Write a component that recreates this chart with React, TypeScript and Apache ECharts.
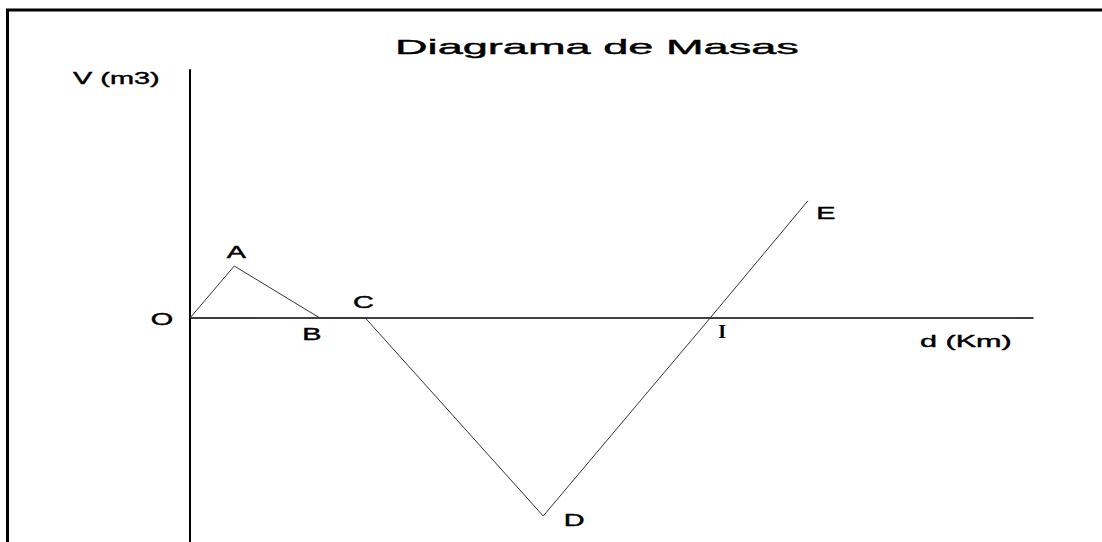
import React, { useEffect, useRef } from "react";
import * as echarts from "echarts";

const pointNames = ["O", "A", "B", "C", "D", "I", "E"];
const distances = [0, 5.25, 15.4, 20.8, 41.9, 61.7, 73.3];
const volumes = [0, 13, 0, 0, -49.5, 0, 29.3];
const titleText = "Diagrama de Masas";
const yAxisName = "V (m3)";
const xAxisName = "d (Km)";

// label offsets (px) relative to each vertex
const labelOffsets: Record<string, [number, number]> = {
  O: [-28, 2],
  A: [2, -13],
  B: [-8, 17],
  C: [-2, -15],
  D: [31, 5],
  I: [12, 13],
  E: [18, 13],
};

const SANS = "'Liberation Sans', Arial, sans-serif";

function stretchedText(text: string, x: number, y: number, fontSize: number, scaleX: number, align = "left", extra: any = {}) {
  return {
    type: "text",
    x,
    y,
    scaleX,
    silent: true,
    style: {
      text,
      x: 0,
      y: 0,
      fill: "#000",
      stroke: "#000",
      lineWidth: 0.4,
      fontSize,
      fontFamily: SANS,
      textAlign: align,
      align,
      textVerticalAlign: "middle",
      verticalAlign: "middle",
      ...extra,
    },
  };
}

export default function App() {
  const ref = useRef<HTMLDivElement>(null);
  useEffect(() => {
    if (!ref.current) return;
    const chart = echarts.init(ref.current, undefined, { renderer: "svg" });
    chart.setOption({
      animation: false,
      backgroundColor: "#fff",
      grid: { left: 190, top: 70, right: 69, bottom: 0 },
      xAxis: {
        type: "value",
        min: 0,
        max: 100,
        axisLine: { onZero: true, lineStyle: { color: "#000", width: 1.5 } },
        axisTick: { show: false },
        axisLabel: { show: false },
        splitLine: { show: false },
      },
      yAxis: {
        type: "value",
        min: -56,
        max: 62,
        axisLine: { show: true, onZero: false, lineStyle: { color: "#000", width: 2 } },
        axisTick: { show: false },
        axisLabel: { show: false },
        splitLine: { show: false },
      },
      series: [
        {
          type: "line",
          data: distances.map((d, i) => [d, volumes[i]]),
          symbol: "none",
          lineStyle: { color: "#333", width: 1 },
          clip: false,
        },
      ],
    });

    const graphic: any[] = [
      { type: "line", silent: true, shape: { x1: 6, y1: 10, x2: 1102, y2: 10 }, style: { stroke: "#000", lineWidth: 3 } },
      { type: "line", silent: true, shape: { x1: 7.5, y1: 9, x2: 7.5, y2: 542 }, style: { stroke: "#000", lineWidth: 3 } },
      stretchedText(titleText, 395, 47, 21, 2.15),
      stretchedText(yAxisName, 73, 78.5, 17, 1.7),
      stretchedText(xAxisName, 920, 341, 17, 1.8),
    ];
    pointNames.forEach((name, i) => {
      const p = chart.convertToPixel({ gridIndex: 0 }, [distances[i], volumes[i]]) as number[];
      const off = labelOffsets[name];
      if (name === "I") {
        graphic.push(
          stretchedText(name, p[0] + off[0], p[1] + off[1], 19, 1, "center", {
            fontFamily: "'Liberation Serif', serif",
            fontWeight: "bold",
            lineWidth: 0.2,
          })
        );
      } else {
        graphic.push(stretchedText(name, p[0] + off[0], p[1] + off[1], 16, 1.8, "center"));
      }
    });
    chart.setOption({ graphic });

    return () => chart.dispose();
  }, []);
  return <div ref={ref} style={{ position: "fixed", left: 0, top: 0, width: 1102, height: 542 }} />;
}
